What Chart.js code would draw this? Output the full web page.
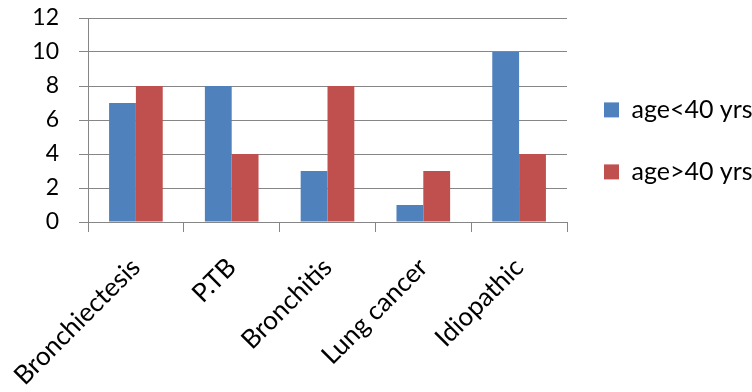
<!DOCTYPE html>
<html>
<head>
<meta charset="utf-8">
<script src="https://cdn.jsdelivr.net/npm/chart.js@4/dist/chart.umd.min.js"></script>
<style>
  html, body { margin: 0; padding: 0; background: #fff; }
  #wrap { width: 752px; height: 392px; }
</style>
</head>
<body>
<div id="wrap"><canvas id="causeChart" width="752" height="392"></canvas></div>
<script>
// categories and series
const categories = ['Bronchiectesis', 'P.TB', 'Bronchitis', 'Lung cancer', 'Idiopathic'];
const under40 = [7, 8, 3, 1, 10];
const over40 = [8, 4, 8, 3, 4];
const seriesNames = ['age<40 yrs', 'age>40 yrs'];
const yTicks = [0, 2, 4, 6, 8, 10, 12];

const gridGrey = '#868686';

const ctx = document.getElementById('causeChart');

const causeChart = new Chart(ctx, {
  type: 'bar',
  data: {
    labels: categories,
    datasets: [
      { label: seriesNames[0], data: under40, backgroundColor: '#4F81BD' },
      { label: seriesNames[1], data: over40, backgroundColor: '#C0504D' }
    ]
  },
  options: {
    responsive: false,
    animation: false,
    layout: { padding: { top: 0, left: 0, bottom: 0, right: -4 } },
    datasets: {
      bar: { categoryPercentage: 0.56, barPercentage: 1.0 }
    },
    plugins: {
      tooltip: { enabled: false },
      legend: {
        position: 'right',
        align: 'start',
        // empty title just pushes the two items down
        title: { display: true, text: ' ', font: { size: 12 }, padding: { top: 0, bottom: 46 } },
        labels: {
          color: '#000',
          font: { family: 'Lato', size: 25 },
          boxWidth: 15,
          boxHeight: 15,
          padding: 37
        }
      }
    },
    scales: {
      x: {
        offset: true,
        grid: {
          offset: true,
          drawOnChartArea: false,
          drawTicks: true,
          tickLength: 10,
          color: gridGrey
        },
        border: { color: gridGrey },
        ticks: {
          color: '#000',
          font: { family: 'Lato', size: 26 },
          minRotation: 45,
          maxRotation: 45,
          padding: 20
        },
        afterFit: function(axis) {
          axis.height = 170;
          // rotated labels would otherwise push the plot to the right
          axis.paddingLeft = 0;
          axis.paddingRight = 0;
        }
      },
      y: {
        min: 0,
        max: 12,
        afterBuildTicks: function(axis) {
          axis.ticks = yTicks.map(function(v) { return { value: v }; });
        },
        grid: {
          color: gridGrey,
          drawTicks: true,
          tickLength: 9
        },
        border: { color: gridGrey },
        ticks: {
          color: '#000',
          font: { family: 'Lato', size: 23 },
          padding: 20
        },
        afterFit: function(axis) {
          axis.width = 88;
          axis.paddingTop = 18;
          axis.paddingBottom = 0;
        }
      }
    }
  }
});
</script>
</body>
</html>
